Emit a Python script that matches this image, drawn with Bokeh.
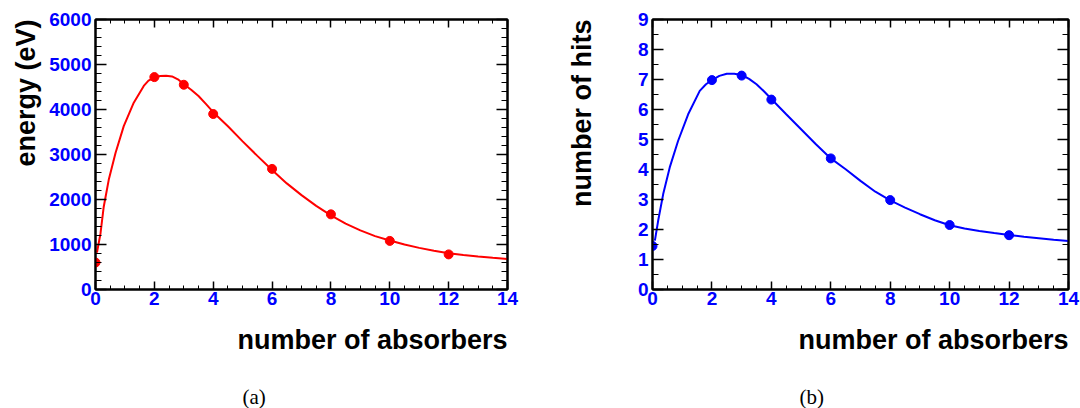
from bokeh.plotting import figure
from bokeh.layouts import row
from bokeh.models import LinearAxis, SingleIntervalTicker, Range1d, Title
from bokeh.embed import file_html
from bokeh.resources import INLINE

# measured points
absorbers = [0, 2, 3, 4, 6, 8, 10, 12]
energy = [600, 4720, 4550, 3900, 2680, 1670, 1080, 780]
hits = [1.45, 6.98, 7.13, 6.33, 4.37, 2.98, 2.15, 1.81]

# fitted curves
energy_fit_x = [0.05, 0.1, 0.17, 0.28, 0.45, 0.68, 0.96, 1.3, 1.64, 1.8, 2.0, 2.2, 2.4, 2.6,
                2.8, 3.0, 3.25, 3.5, 3.75, 4.0, 4.5, 5.0, 5.5, 6.0, 6.5, 7.0, 7.5, 8.0, 8.5,
                9.0, 9.5, 10.0, 10.5, 11.0, 11.5, 12.0, 12.5, 13.0, 13.5, 14.0]
energy_fit_y = [820, 1000, 1245, 1840, 2437, 3034, 3630, 4152, 4524, 4640, 4711, 4745, 4752,
                4735, 4670, 4562, 4440, 4299, 4125, 3940, 3627, 3291, 2970, 2657, 2358, 2097,
                1858, 1649, 1463, 1313, 1187, 1090, 1000, 925, 860, 806, 765, 731, 705, 680]

hits_fit_x = [0.08, 0.19, 0.36, 0.58, 0.86, 1.2, 1.59, 1.8, 2.0, 2.25, 2.5, 2.75, 3.0, 3.25,
              3.5, 3.75, 4.0, 4.5, 5.0, 5.5, 6.0, 6.5, 7.0, 7.5, 8.0, 8.5, 9.0, 9.5, 10.0,
              10.5, 11.0, 11.5, 12.0, 12.5, 13.0, 13.5, 14.0]
hits_fit_y = [1.63, 2.29, 3.18, 4.07, 4.95, 5.84, 6.62, 6.84, 6.98, 7.12, 7.19, 7.19, 7.15,
              7.02, 6.84, 6.61, 6.35, 5.84, 5.34, 4.84, 4.37, 4.01, 3.62, 3.26, 2.97, 2.73,
              2.51, 2.31, 2.14, 2.03, 1.95, 1.88, 1.82, 1.76, 1.71, 1.66, 1.62]

x_title = "number of absorbers"
FONT = "Liberation Sans"
BLUE = "#0000ff"


def make_panel(frame_w, frame_h, bl, br, bt, ymax, yint, yminor, xs, ys, fx, fy, color,
               ytitle, ytitle_standoff, caption):
    p = figure(frame_width=frame_w, frame_height=frame_h, output_backend="svg",
               toolbar_location=None, x_range=Range1d(0, 14), y_range=Range1d(0, ymax),
               min_border_left=bl, min_border_right=br, min_border_top=bt,
               min_border_bottom=20, x_axis_location=None, y_axis_location=None)
    p.xgrid.visible = False
    p.ygrid.visible = False
    p.outline_line_color = "black"
    p.outline_line_width = 2
    p.background_fill_color = "white"
    p.border_fill_color = "white"

    xt = SingleIntervalTicker(interval=2, num_minor_ticks=4)
    yt = SingleIntervalTicker(interval=yint, num_minor_ticks=yminor)

    for loc in ("below", "above"):
        ax = LinearAxis(ticker=xt)
        ax.axis_line_width = 2
        ax.major_tick_in = 8
        ax.major_tick_out = 0
        ax.minor_tick_in = 4
        ax.minor_tick_out = 0
        ax.major_tick_line_width = 1.5
        if loc == "below":
            ax.major_label_text_font = FONT
            ax.major_label_text_font_style = "bold"
            ax.major_label_text_font_size = "19px"
            ax.major_label_text_color = BLUE
            ax.major_label_standoff = 2
        else:
            ax.major_label_text_font_size = "1px"
            ax.major_label_text_color = None
            ax.major_label_standoff = 0
        p.add_layout(ax, loc)

    for loc in ("left", "right"):
        ay = LinearAxis(ticker=yt)
        ay.axis_line_width = 2
        ay.major_tick_in = 11
        ay.major_tick_out = 0
        ay.minor_tick_in = 6
        ay.minor_tick_out = 0
        ay.major_tick_line_width = 1.5
        if loc == "left":
            ay.major_label_text_font = FONT
            ay.major_label_text_font_style = "bold"
            ay.major_label_text_font_size = "19px"
            ay.major_label_text_color = BLUE
            ay.major_label_standoff = 4
        else:
            ay.major_label_text_font_size = "1px"
            ay.major_label_text_color = None
            ay.major_label_standoff = 0
        p.add_layout(ay, loc)

    p.line(fx, fy, line_color=color, line_width=2)
    p.scatter(xs, ys, size=9, fill_color=color, line_color=color)

    # axis titles, right-aligned to the end of the axis (ROOT style)
    p.add_layout(Title(text=x_title, align="right", offset=0, standoff=30,
                       text_font=FONT, text_font_style="bold", text_font_size="27px",
                       text_color="black"), "below")
    p.add_layout(Title(text=ytitle, align="right", offset=0, standoff=ytitle_standoff,
                       text_font=FONT, text_font_style="bold", text_font_size="27px",
                       text_color="black"), "left")
    # sub-figure caption
    p.add_layout(Title(text=caption, align="left", offset=147, standoff=26,
                       text_font="Liberation Serif", text_font_style="normal",
                       text_font_size="21px", text_color="black"), "below")
    return p


p1 = make_panel(412, 270, 95, 19, 19, 6000, 1000, 5, absorbers, energy,
                energy_fit_x, energy_fit_y, "#ff0000", "energy (eV)", 12, "(a)")
p2 = make_panel(416, 270, 125, 13, 19, 9, 1, 2, absorbers, hits,
                hits_fit_x, hits_fit_y, "#0000ff", "number of hits", 76, "(b)")

layout = row(p1, p2, spacing=0)
open("out.html", "w").write(file_html(layout, INLINE))
